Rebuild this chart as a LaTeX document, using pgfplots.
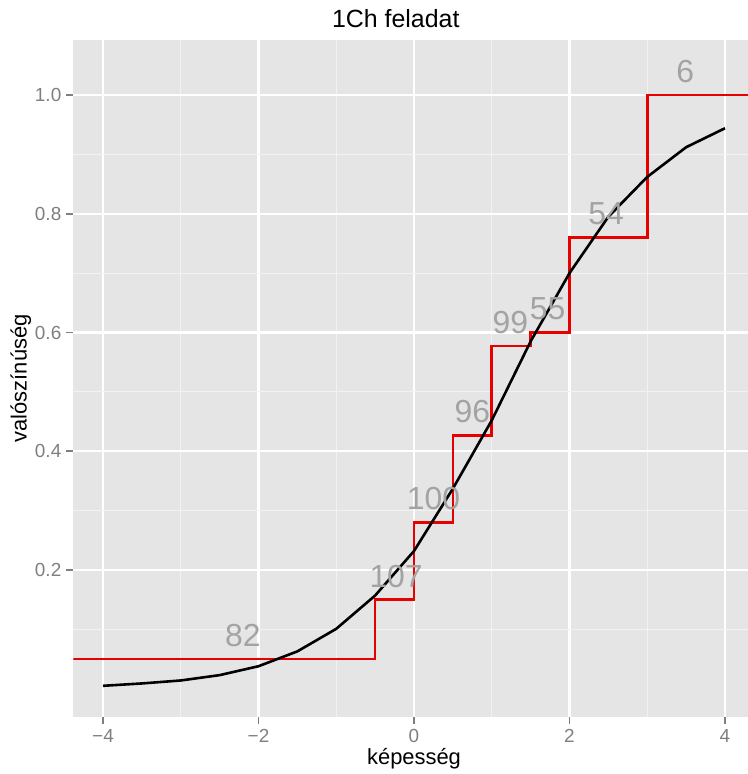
\documentclass[border=0pt]{standalone}
\usepackage{pgfplots}
\pgfplotsset{compat=1.18}
\usepackage{pgfplotstable}
\usepackage{fontspec}
\setmainfont{Liberation Sans}
\definecolor{panelbg}{HTML}{E5E5E5}
\definecolor{minorgrid}{HTML}{F2F2F2}
\definecolor{ticklab}{HTML}{7F7F7F}
\definecolor{labgrey}{HTML}{A3A3A3}
\definecolor{stepred}{HTML}{E60000}

\pgfplotstableread{
x y
-4.5 0.05
-0.5 0.15
0 0.28
0.5 0.427
1 0.577
1.5 0.6
2 0.76
3 1.0
4.6 1.0
}\stepdata

\pgfplotstableread{
x y
-4 0.005
-3.5 0.009
-3 0.014
-2.5 0.023
-2 0.038
-1.5 0.063
-1 0.101
-0.5 0.157
0 0.232
0.5 0.337
1 0.452
1.5 0.585
2 0.700
2.5 0.795
3 0.862
3.5 0.912
4 0.944
}\curvedata

\pgfplotstableread{
x y label
-2.2 0.089 82
-0.23 0.189 107
0.25 0.320 100
0.75 0.467 96
1.24 0.617 99
1.72 0.640 55
2.47 0.800 54
3.49 1.040 6
}\labeldata

\begin{document}
\begin{tikzpicture}
\path[use as bounding box] (0,0) rectangle (748bp,774bp);
\begin{axis}[
  scale only axis,
  width=674.7bp, height=676.7bp,
  at={(73.3bp,57.3bp)}, anchor=south west,
  xmin=-4.382, xmax=4.296,
  ymin=-0.047, ymax=1.0926,
  axis background/.style={fill=panelbg},
  axis line style={draw=none},
  xtick={-4,-2,0,2,4},
  xticklabels={−4,−2,0,2,4},
  minor xtick={-3,-1,1,3},
  ytick={0.2,0.4,0.6,0.8,1.0},
  yticklabels={0.2,0.4,0.6,0.8,1.0},
  minor ytick={0.1,0.3,0.5,0.7,0.9},
  grid=both,
  major grid style={white, line width=2.4bp},
  minor grid style={minorgrid, line width=1.2bp},
  tick align=outside,
  xtick pos=bottom, ytick pos=left,
  major tick length=7.5bp,
  minor tick length=0pt,
  every tick/.style={ticklab, line width=1.8bp},
  tick label style={font=\fontsize{19}{22}\selectfont, text=ticklab},
  xticklabel style={yshift=-2bp},
  yticklabel style={xshift=-1bp},
  clip=true,
  title={1Ch feladat},
  title style={font=\fontsize{25}{28}\selectfont, at={(axis description cs:0.478,1)}, anchor=base, yshift=7bp},
  xlabel={képesség},
  xlabel style={font=\fontsize{22}{26}\selectfont, at={(axis description cs:0.505,0)}, anchor=base, yshift=-47.5bp},
  ylabel={valószínúség},
  ylabel style={font=\fontsize{22}{26}\selectfont, at={(axis description cs:-0.069,0.5)}, anchor=base},
]
\addplot[stepred, line width=2.6bp, const plot mark left] table[x=x,y=y] {\stepdata};
\addplot[black, line width=2.6bp] table[x=x,y=y] {\curvedata};
\addplot[only marks, mark=none, point meta=explicit symbolic,
  nodes near coords,
  nodes near coords style={anchor=center, text=labgrey, font=\fontsize{32}{35}\selectfont}]
  table[x=x,y=y,meta=label] {\labeldata};
\end{axis}
\end{tikzpicture}
\end{document}
